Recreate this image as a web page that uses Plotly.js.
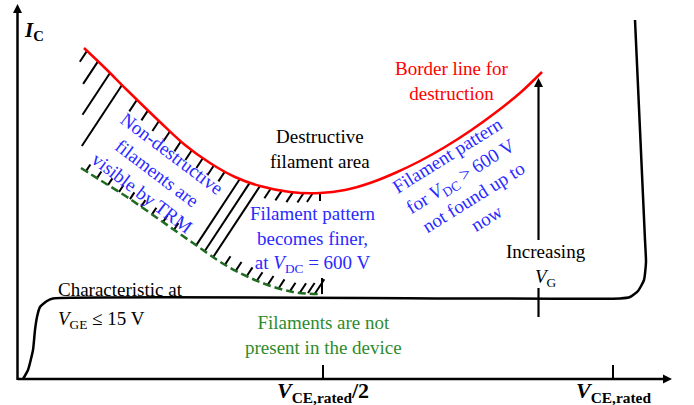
<!DOCTYPE html>
<html><head><meta charset="utf-8">
<script src="https://cdn.plot.ly/plotly-3.0.1.min.js"></script>
<style>html,body{margin:0;padding:0;background:#fff}#chart{width:694px;height:405px}</style>
</head><body><div id="chart"></div>
<script>
// Schematic frame: one unit = one pixel of the 694x405 picture, y grows downward.
// Characteristic at V_GE <= 15 V
const charX = [23, 28, 33, 35, 37, 40, 47, 53, 620, 630, 638, 644, 646, 645, 640, 635];
const charY = [379, 370, 350, 330, 317, 307, 301, 298.5, 298.5, 297, 291, 280, 262, 240, 130, 20];
// Border line for destruction (red)
const redX = [84, 105, 127, 160, 185, 210, 235, 260, 290, 320, 345, 370, 395, 420, 445, 470, 495, 520, 542];
const redY = [48, 68, 90, 122, 145, 163, 177, 186, 192, 193, 190, 183, 173, 161, 147, 131, 113, 93, 72];
// Lower limit of non-destructive filaments (green dashed)
const greenX = [81, 100, 127, 160, 193, 227, 260, 293, 322];
const greenY = [168, 180, 197, 220, 243, 266, 282, 292, 294];
// Hatching: anchors on the red line (length 0 = down to green line)
const hatchRedX   = [87, 98, 110, 122, 137, 148, 159, 170, 181, 192, 203, 214, 225, 240, 250, 260, 271, 282, 293, 304, 313];
const hatchRedLen = [13, 27, 50, 73, 14, 12, 12, 12, 12, 12, 12, 12, 12, 0, 0, 0, 12, 12, 12, 12, 11];
// Hatching: anchors on the green line
const hatchGreenX   = [86, 97, 108, 119, 130, 141, 152, 163, 174, 225, 236, 247, 257, 268, 279, 290, 300, 308, 315];
const hatchGreenLen = [8, 8, 8, 8, 8, 8, 8, 8, 8, 10, 10, 10, 10, 10, 10, 10, 11, 12, 17];
// Vertical end marks of the hatching
const vMarkX = [320, 322];
const vMarkLen = [8, -16];
// Axis ticks
const tickX = [323, 613];
const tickLabels = ['<b><i>V</i><sub>CE,rated</sub>/2</b>', '<b><i>V</i><sub>CE,rated</sub></b>'];
// Increasing V_G arrow
const vgX = 538.5;
const vgSegY = [[317, 288], [240, 84]];

const AXY = 379, AX0 = 17.5;
function interp(xs, ys, x) {
  if (x <= xs[0]) return ys[0];
  for (let i = 1; i < xs.length; i++) {
    if (x <= xs[i]) { const t = (x - xs[i-1]) / (xs[i] - xs[i-1]); return ys[i-1] + t * (ys[i] - ys[i-1]); }
  }
  return ys[ys.length - 1];
}
const D = [-0.55, 0.835];
const hx = [], hy = [];
hatchRedX.forEach((x0, i) => {
  const y0 = interp(redX, redY, x0);
  let L = hatchRedLen[i];
  if (L === 0) {
    let t = 0;
    while (t < 200) { const x = x0 + D[0]*t, y = y0 + D[1]*t; if (x >= greenX[0] && y >= interp(greenX, greenY, x)) break; t += 0.5; }
    L = t;
  }
  hx.push(x0, x0 + D[0]*L, null); hy.push(y0, y0 + D[1]*L, null);
});
hatchGreenX.forEach((x0, i) => {
  const y0 = interp(greenX, greenY, x0), L = hatchGreenLen[i];
  hx.push(x0, x0 - D[0]*L, null); hy.push(y0, y0 - D[1]*L, null);
});
vMarkX.forEach((x0, i) => {
  const y0 = i === 0 ? interp(redX, redY, x0) : interp(greenX, greenY, x0);
  hx.push(x0, x0, null); hy.push(y0, y0 + vMarkLen[i], null);
});
const tx = [], ty = [];
tickX.forEach(x => { tx.push(x, x, null); ty.push(AXY, 365, null); });
const ax = [], ay = [];
ax.push(AX0, AX0, null, AX0, 664); ay.push(AXY + 1, 12, null, AXY, AXY);
const vx = [], vy = [];
vgSegY.forEach(s => { vx.push(vgX, vgX, null); vy.push(s[0], s[1], null); });

const K = 'black';
const traces = [
  {x: hx, y: hy, mode: 'lines', line: {color: K, width: 2}, hoverinfo: 'skip'},
  {x: greenX, y: greenY, mode: 'lines', line: {color: '#1f6b1f', width: 2.5, dash: '8px,4px', shape: 'spline', smoothing: 1}, hoverinfo: 'skip'},
  {x: redX, y: redY, mode: 'lines', line: {color: '#ff0000', width: 2.5, shape: 'spline', smoothing: 1}, hoverinfo: 'skip'},
  {x: charX, y: charY, mode: 'lines', line: {color: K, width: 2.5, shape: 'spline', smoothing: 0.5}, hoverinfo: 'skip'},
  {x: ax, y: ay, mode: 'lines', line: {color: K, width: 2.5}, hoverinfo: 'skip'},
  {x: tx, y: ty, mode: 'lines', line: {color: K, width: 2}, hoverinfo: 'skip'},
  {x: vx, y: vy, mode: 'lines', line: {color: K, width: 2.2}, hoverinfo: 'skip'},
  {x: [AX0, vgX], y: [4, 78], mode: 'markers', marker: {symbol: 'arrow-up', size: 9, color: K, line: {width: 0}}, hoverinfo: 'skip'},
  {x: [672], y: [AXY], mode: 'markers', marker: {symbol: 'arrow-right', size: 9, color: K, line: {width: 0}}, hoverinfo: 'skip'}
];

const F = '"Liberation Serif", "Times New Roman", Times, serif';
const BLUE = '#2a2aff', GREEN = '#2e8b2e';
const FS = 19;
function ann(text, x, y, color, size, extra) {
  return Object.assign({text: text, x: x, y: y, xref: 'x', yref: 'y', showarrow: false, xanchor: 'center', yanchor: 'middle',
    font: {family: F, size: size || FS, color: color || K}}, extra || {});
}
const annotations = [
  ann('<b><i>I</i><sub>C</sub></b>', 34, 31, K, 21),
  ann(tickLabels[0], tickX[0], 392, K, 22),
  ann(tickLabels[1], tickX[1], 392, K, 22),
  ann('Border line for<br>destruction', 452, 81, '#ff0000'),
  ann('Destructive<br>filament area', 320, 149, K),
  ann('Non-destructive<br>filaments are<br>visible by TRM', 157, 173, BLUE, FS, {textangle: 37}),
  ann('Filament pattern<br>becomes finer,<br>at <i>V</i><sub>DC</sub> = 600 V', 313, 239, BLUE),
  ann('Filament pattern<br>for <i>V</i><sub>DC</sub> > 600 V<br>not found up to<br>now', 467, 186, BLUE, FS, {textangle: -32}),
  ann('Increasing<br><i>V</i><sub>G</sub>', 546, 265, K),
  ann('Characteristic at', 56, 289, K, FS, {xanchor: 'left'}),
  ann('<i>V</i><sub>GE</sub> ≤ 15 V', 56, 320, K, FS, {xanchor: 'left'}),
  ann('Filaments are not<br>present in the device', 323, 335, GREEN)
];

const layout = {
  width: 694, height: 405, margin: {l: 0, r: 0, t: 0, b: 0},
  font: {family: F, size: FS, color: K},
  paper_bgcolor: '#fff', plot_bgcolor: '#fff', showlegend: false,
  xaxis: {range: [0, 694], visible: false, fixedrange: true},
  yaxis: {range: [405, 0], visible: false, fixedrange: true},
  annotations: annotations
};
Plotly.newPlot('chart', traces, layout, {staticPlot: true, displayModeBar: false});
</script>
</body></html>
